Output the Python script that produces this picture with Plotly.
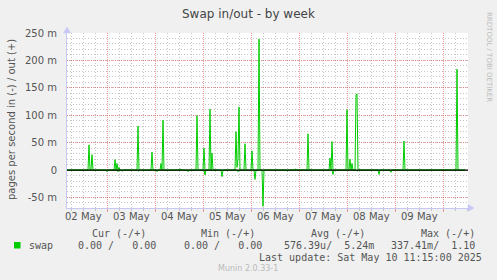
import pandas as pd
import plotly.graph_objects as go

# ---------------- data (values in milli-pages/s) ----------------
start_time = "2025-05-02 04:00"
last_sample = "2025-05-10 11:00"
range_end = "2025-05-10 12:30"

out_times = ["2025-05-02 15:00", "2025-05-02 16:30", "2025-05-03 04:00", "2025-05-03 05:00",
             "2025-05-03 06:00", "2025-05-03 15:30", "2025-05-03 22:30", "2025-05-04 03:00",
             "2025-05-04 04:00", "2025-05-04 12:30", "2025-05-04 21:00", "2025-05-05 00:30",
             "2025-05-05 03:30", "2025-05-05 04:30", "2025-05-05 16:30", "2025-05-05 17:00",
             "2025-05-05 17:30", "2025-05-05 18:00", "2025-05-05 21:00", "2025-05-06 00:30",
             "2025-05-06 04:00", "2025-05-06 22:00", "2025-05-07 04:30", "2025-05-07 15:30",
             "2025-05-07 16:30", "2025-05-08 00:00", "2025-05-08 01:30", "2025-05-08 02:30",
             "2025-05-08 04:30", "2025-05-08 05:00", "2025-05-09 04:30", "2025-05-10 07:00"]
out_values = [46, 28, 19, 12,
              5, 80, 33, 12,
              91, 2, 99, 40,
              111, 31, 70, 5,
              20, 115, 48, 35,
              239, 2, 66, 22,
              52, 110, 20, 12,
              137, 139, 53, 184]

in_times = ["2025-05-03 00:00", "2025-05-03 05:30", "2025-05-03 07:30", "2025-05-03 15:30",
            "2025-05-04 01:00", "2025-05-04 16:30", "2025-05-05 01:00", "2025-05-05 09:30",
            "2025-05-05 17:30", "2025-05-06 02:00", "2025-05-06 06:00", "2025-05-06 18:00",
            "2025-05-07 17:00", "2025-05-08 05:00", "2025-05-08 16:00", "2025-05-08 22:00"]
in_values = [3, 3, 2, 2,
             3, 3, 9, 12,
             3, 17, 66, 2,
             8, 2, 8, 4]

y_tick_vals = [-50, 0, 50, 100, 150, 200, 250]
y_tick_text = ["-50 m", "0", "50 m", "100 m", "150 m", "200 m", "250 m"]
day_labels = ["02 May", "03 May", "04 May", "05 May", "06 May", "07 May", "08 May", "09 May"]
day_label_times = ["2025-05-02 12:00", "2025-05-03 12:00", "2025-05-04 12:00", "2025-05-05 12:00",
                   "2025-05-06 12:00", "2025-05-07 12:00", "2025-05-08 12:00", "2025-05-09 12:00"]

legend_name = "swap"
col_headers = ["Cur (-/+)", "Min (-/+)", "Avg (-/+)", "Max (-/+)"]
col_values = ["0.00 /   0.00", "0.00 /   0.00", "576.39u/  5.24m", "337.41m/  1.10"]
last_update = "Last update: Sat May 10 11:15:00 2025"

# ---------------- build series ----------------
t = pd.date_range(start_time, last_sample, freq="30min")
out_s = pd.Series(0.0, index=t)
out_s.loc[pd.to_datetime(out_times)] = out_values
in_s = pd.Series(0.0, index=t)
in_s.loc[pd.to_datetime(in_times)] = in_values

GREEN = "#00cc00"
fig = go.Figure()
fig.add_trace(go.Scatter(x=t, y=-in_s.values, mode="lines", line=dict(color=GREEN, width=1),
                         showlegend=False, hoverinfo="skip"))
fig.add_trace(go.Scatter(x=t, y=out_s.values, mode="lines", line=dict(color=GREEN, width=1),
                         showlegend=False, hoverinfo="skip"))

# ---------------- layout geometry ----------------
W, H = 497, 280
L, R, T, B = 67, 468, 33, 208


def px(x):
    return (x - L) / (R - L)


def py(y):
    return (B - y) / (B - T)


AX = "#c8c8f4"
MAJ = "rgba(225,90,90,0.6)"
MIN = "#c4c4c4"
TXT = "#555555"
SANS = "DejaVu Sans"
MONO = "DejaVu Sans Mono"

fig.update_layout(
    width=W, height=H,
    margin=dict(l=L, r=W - R, t=T, b=H - B, pad=0),
    paper_bgcolor="#f0f0f0", plot_bgcolor="white",
    showlegend=False,
    xaxis=dict(type="date", range=[start_time, range_end],
               tick0="2025-05-02", dtick=86400000,
               showgrid=True, gridcolor=MAJ, griddash="1px,1px", gridwidth=1,
               minor=dict(dtick=6 * 3600000, showgrid=True, gridcolor=MIN, griddash="1px,2px",
                          ticks="outside", ticklen=2, tickcolor=MIN),
               ticks="outside", ticklen=3, tickcolor=MAJ,
               showticklabels=False, showline=True, linecolor=AX, linewidth=1,
               zeroline=False, fixedrange=True),
    yaxis=dict(range=[-69.2, 250], tickvals=y_tick_vals, ticktext=y_tick_text,
               showgrid=True, gridcolor=MAJ, griddash="1px,1px",
               minor=dict(dtick=10, showgrid=True, gridcolor=MIN, griddash="1px,2px"),
               ticks="outside", ticklen=7, tickcolor="rgba(0,0,0,0)",
               tickfont=dict(family=SANS, size=10, color=TXT),
               showline=True, linecolor=AX, linewidth=1, zeroline=False, fixedrange=True),
)

shapes = [
    # zero line
    dict(type="line", xref="paper", yref="y", x0=0, x1=1, y0=0, y1=0,
         line=dict(color="black", width=1.3), layer="above"),
    # y-axis arrow
    dict(type="path", xref="paper", yref="paper",
         path=f"M {px(67)},{py(27)} L {px(63.5)},{py(33)} L {px(70.5)},{py(33)} Z",
         fillcolor=AX, line=dict(color=AX, width=0.5), layer="above"),
    dict(type="line", xref="paper", yref="paper", x0=px(67), x1=px(67), y0=py(33), y1=py(28),
         line=dict(color=AX, width=1)),
    # x-axis arrow
    dict(type="path", xref="paper", yref="paper",
         path=f"M {px(474)},{py(208)} L {px(468)},{py(204.5)} L {px(468)},{py(211.5)} Z",
         fillcolor=AX, line=dict(color=AX, width=0.5), layer="above"),
    # legend square
    dict(type="rect", xref="paper", yref="paper", x0=px(14), x1=px(20.5), y0=py(248.5), y1=py(242),
         fillcolor=GREEN, line=dict(width=0)),
]
fig.update_layout(shapes=shapes)

ann = []
ann.append(dict(text="Swap in/out - by week", x=px(248), y=py(14), xref="paper", yref="paper",
                showarrow=False, xanchor="center", yanchor="middle",
                font=dict(family=SANS, size=12, color="#444444")))
ann.append(dict(text="pages per second in (-) / out (+)", x=px(11), y=py(120), xref="paper", yref="paper",
                showarrow=False, textangle=-90, xanchor="center", yanchor="middle",
                font=dict(family=SANS, size=10, color=TXT)))
ann.append(dict(text="RRDTOOL / TOBI OETIKER", x=px(489), y=py(57), xref="paper", yref="paper",
                showarrow=False, textangle=90, xanchor="center", yanchor="middle",
                font=dict(family=SANS, size=7, color="#bbbbbb")))
for lab, tm in zip(day_labels, day_label_times):
    ann.append(dict(text=lab, x=tm, xref="x", y=py(216.7), yref="paper", showarrow=False,
                    xanchor="center", yanchor="middle", font=dict(family=SANS, size=10, color=TXT)))

hdr_right = [148, 257, 367, 477]
val_right = [157.5, 264, 376, 477]
for h, xr in zip(col_headers, hdr_right):
    ann.append(dict(text=h.replace(" ", "&nbsp;"), x=px(xr), y=py(233.7), xref="paper", yref="paper",
                    showarrow=False, xanchor="right", yanchor="middle",
                    font=dict(family=MONO, size=10, color=TXT)))
for v, xr in zip(col_values, val_right):
    ann.append(dict(text=v.replace(" ", "&nbsp;"), x=px(xr), y=py(245.7), xref="paper", yref="paper",
                    showarrow=False, xanchor="right", yanchor="middle",
                    font=dict(family=MONO, size=10, color=TXT)))
ann.append(dict(text=legend_name, x=px(26.5), y=py(245.7), xref="paper", yref="paper",
                showarrow=False, xanchor="left", yanchor="middle",
                font=dict(family=MONO, size=10, color=TXT)))
ann.append(dict(text=last_update.replace(" ", "&nbsp;"), x=px(483.5), y=py(257.7), xref="paper", yref="paper",
                showarrow=False, xanchor="right", yanchor="middle",
                font=dict(family=MONO, size=10, color=TXT)))
ann.append(dict(text="Munin 2.0.33-1", x=px(248), y=py(268.5), xref="paper", yref="paper",
                showarrow=False, xanchor="center", yanchor="middle",
                font=dict(family=SANS, size=8, color="#bbbbbb")))
fig.update_layout(annotations=ann)

fig.write_html("out.html", config=dict(displayModeBar=False))
